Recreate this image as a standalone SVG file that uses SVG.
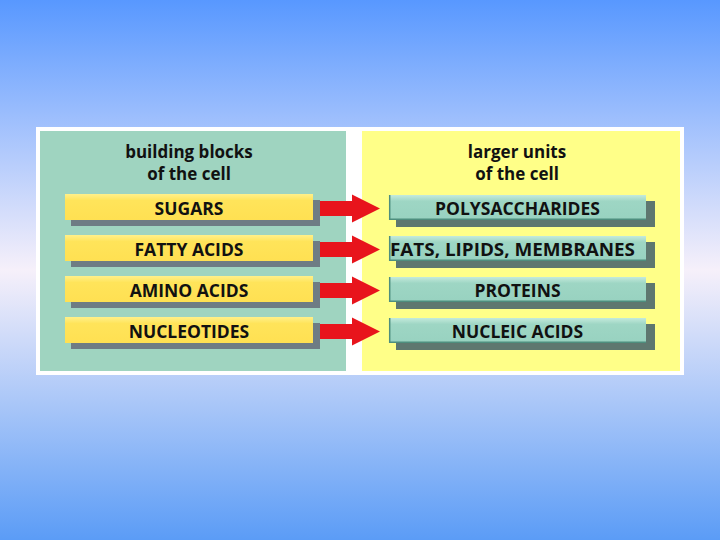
<svg xmlns="http://www.w3.org/2000/svg" width="720" height="540" viewBox="0 0 720 540">
<defs>
<linearGradient id="bg" x1="0" y1="0" x2="0" y2="1">
<stop offset="0" stop-color="#5898ff"/>
<stop offset="0.5" stop-color="#f6f0fa"/>
<stop offset="1" stop-color="#5b9cf6"/>
</linearGradient>
<linearGradient id="yb" x1="0" y1="0" x2="0" y2="1">
<stop offset="0" stop-color="#fff08a"/>
<stop offset="0.25" stop-color="#ffe45a"/>
<stop offset="1" stop-color="#ffe052"/>
</linearGradient>
<linearGradient id="tb" x1="0" y1="0" x2="0" y2="1">
<stop offset="0" stop-color="#c4eadc"/>
<stop offset="0.25" stop-color="#9ed6c4"/>
<stop offset="1" stop-color="#98d2c0"/>
</linearGradient>
<style>
.hdr{font-family:"Open Sans","Liberation Sans",sans-serif;font-weight:700;font-size:17px;fill:#111;text-anchor:middle}
.lbl{font-family:"Open Sans","Liberation Sans",sans-serif;font-weight:700;font-size:17.5px;fill:#111;text-anchor:middle}
.ysh{fill:#6e7c84}
.tsh{fill:#5e776f}
.ybar{fill:url(#yb)}
.tbar{fill:url(#tb)}
.tedge{fill:none;stroke:#4e8e7e;stroke-width:1.5}
.arrow{fill:#e8141c}
</style>
</defs>
<rect width="720" height="540" fill="url(#bg)"/>
<rect x="36" y="127" width="648" height="248" fill="#ffffff"/>
<rect x="40" y="131" width="306" height="240" fill="#9fd4c0"/>
<rect x="362" y="131" width="318" height="240" fill="#ffff88"/>

<g id="header-left">
<text class="hdr" x="189" y="158">building blocks</text>
<text class="hdr" x="189" y="180">of the cell</text>
</g>
<g id="header-right">
<text class="hdr" x="517" y="158">larger units</text>
<text class="hdr" x="517" y="180">of the cell</text>
</g>

<g id="sugars">
<rect class="ysh" x="71" y="200" width="249" height="26"/>
<rect class="ybar" x="65" y="194" width="248" height="26"/>
<text class="lbl" x="189" y="215">SUGARS</text>
</g>
<g id="fatty-acids">
<rect class="ysh" x="71" y="241" width="249" height="26"/>
<rect class="ybar" x="65" y="235" width="248" height="26"/>
<text class="lbl" x="189" y="256">FATTY ACIDS</text>
</g>
<g id="amino-acids">
<rect class="ysh" x="71" y="282" width="249" height="26"/>
<rect class="ybar" x="65" y="276" width="248" height="26"/>
<text class="lbl" x="189" y="297">AMINO ACIDS</text>
</g>
<g id="nucleotides">
<rect class="ysh" x="71" y="323" width="249" height="26"/>
<rect class="ybar" x="65" y="317" width="248" height="26"/>
<text class="lbl" x="189" y="338">NUCLEOTIDES</text>
</g>

<g id="polysaccharides">
<rect class="tsh" x="396" y="201" width="259" height="26"/>
<rect class="tbar" x="389" y="195" width="257" height="25"/>
<path class="tedge" d="M389.7 195 V219.3 H646"/>
<text class="lbl" x="517.5" y="215">POLYSACCHARIDES</text>
</g>
<g id="fats-lipids-membranes">
<rect class="tsh" x="396" y="242" width="259" height="26"/>
<rect class="tbar" x="389" y="236" width="257" height="25"/>
<path class="tedge" d="M389.7 236 V260.3 H646"/>
<text class="lbl" x="512.5" y="256" textLength="245" lengthAdjust="spacingAndGlyphs">FATS, LIPIDS, MEMBRANES</text>
</g>
<g id="proteins">
<rect class="tsh" x="396" y="283" width="259" height="26"/>
<rect class="tbar" x="389" y="277" width="257" height="25"/>
<path class="tedge" d="M389.7 277 V301.3 H646"/>
<text class="lbl" x="517.5" y="297">PROTEINS</text>
</g>
<g id="nucleic-acids">
<rect class="tsh" x="396" y="324" width="259" height="26"/>
<rect class="tbar" x="389" y="318" width="257" height="25"/>
<path class="tedge" d="M389.7 318 V342.3 H646"/>
<text class="lbl" x="517.5" y="338">NUCLEIC ACIDS</text>
</g>

<g id="connectors">
<path class="arrow" d="M320 201 H352 V194.5 L380 208.5 L352 222.5 V216 H320 Z"/>
<path class="arrow" d="M320 242 H352 V235.5 L380 249.5 L352 263.5 V257 H320 Z"/>
<path class="arrow" d="M320 283 H352 V276.5 L380 290.5 L352 304.5 V298 H320 Z"/>
<path class="arrow" d="M320 324 H352 V317.5 L380 331.5 L352 345.5 V339 H320 Z"/>
</g>
</svg>
